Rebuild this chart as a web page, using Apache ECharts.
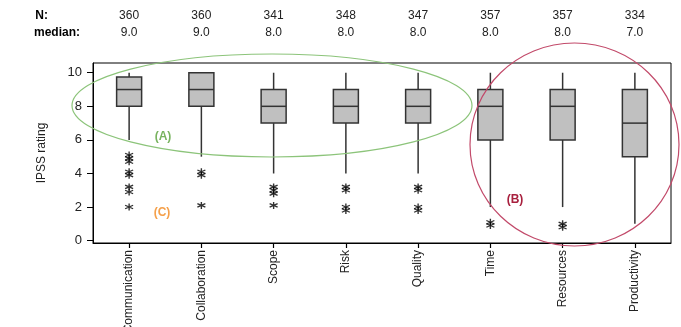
<!DOCTYPE html>
<html><head><meta charset="utf-8">
<script src="https://cdn.jsdelivr.net/npm/echarts@6/dist/echarts.min.js"></script>
<style>html,body{margin:0;padding:0;background:#fff}#c{width:681px;height:327px}</style>
</head><body><div id="c"></div>
<script>
const categories = ['Communication','Collaboration','Scope','Risk','Quality','Time','Resources','Productivity'];
const nValues = [360,360,341,348,347,357,357,334];
const medians = [9.0,9.0,8.0,8.0,8.0,8.0,8.0,7.0];
// [lower whisker, Q1, median, Q3, upper whisker]
const boxStats = [
  [6,8,9,9.75,10],
  [5,8,9,10,10],
  [4,7,8,9,10],
  [4,7,8,9,10],
  [4,7,8,9,10],
  [2,6,8,9,10],
  [2,6,8,9,10],
  [1,5,7,9,10]
];
// outliers: [category index, rating]
const outliers = [
  [0,5.1],[0,4.9],[0,4.7],[0,4.1],[0,3.9],[0,3.2],[0,2.9],[0,2.0],
  [1,4.1],[1,3.9],[1,2.1],
  [2,3.2],[2,3.0],[2,2.8],[2,2.1],
  [3,3.2],[3,3.0],[3,2.0],[3,1.8],
  [4,3.2],[4,3.0],[4,2.0],[4,1.8],
  [5,1.1],[5,0.9],
  [6,1.0],[6,0.8]
];
const yTicks = [0,2,4,6,8,10];

const chart = echarts.init(document.getElementById('c'));
const font = 'Liberation Sans, Arial, sans-serif';
const left = 93, right = 10, plotW = 681 - left - right;
const step = plotW / categories.length;
const headerTexts = [];
headerTexts.push({type:'text', style:{text:'N:', x:48, y:16, textAlign:'right', textVerticalAlign:'middle', font:'bold 12px '+font, fill:'#000'}});
headerTexts.push({type:'text', style:{text:'median:', x:80, y:33, textAlign:'right', textVerticalAlign:'middle', font:'bold 12px '+font, fill:'#000'}});
categories.forEach((c,i)=>{
  const cx = left + step*(i+0.5);
  headerTexts.push({type:'text', style:{text:String(nValues[i]), x:cx, y:16, textAlign:'center', textVerticalAlign:'middle', font:'12px '+font, fill:'#222'}});
  headerTexts.push({type:'text', style:{text:medians[i].toFixed(1), x:cx, y:33, textAlign:'center', textVerticalAlign:'middle', font:'12px '+font, fill:'#222'}});
});

const asterisk = 'path://M0,-5L0,5M-4.33,-2.5L4.33,2.5M-4.33,2.5L4.33,-2.5';
const boxData = boxStats.map((s,i)=>[i].concat(s));
const lineStyle = {stroke:'#333', lineWidth:1.5};

chart.setOption({
  animation:false,
  backgroundColor:'#fff',
  grid:{left:left, right:right, top:63, bottom:84, show:true, borderColor:'#000', borderWidth:1, containLabel:false, outerBoundsMode:'none'},
  xAxis:{type:'category', data:categories, boundaryGap:true,
    axisLine:{show:true, onZero:false, lineStyle:{color:'#000', width:1}},
    axisTick:{show:true, inside:false, alignWithLabel:true, interval:0, length:5, lineStyle:{color:'#000', width:1.2}},
    axisLabel:{rotate:90, color:'#222', fontFamily:font, fontSize:12, margin:7, interval:0},
    splitLine:{show:false}},
  yAxis:{type:'value', min:-0.14, max:10.58,
    name:'IPSS rating', nameLocation:'middle', nameGap:45, nameRotate:90,
    nameTextStyle:{fontFamily:font, fontSize:12, color:'#222'},
    axisLine:{show:true, lineStyle:{color:'#000'}},
    axisTick:{show:true, length:6, customValues:yTicks, lineStyle:{color:'#000'}},
    axisLabel:{customValues:yTicks, color:'#222', fontFamily:font, fontSize:13, margin:11},
    splitLine:{show:false}},
  series:[
    {type:'custom', data:boxData,
      encode:{x:0, y:[1,2,3,4,5]},
      renderItem:function(params, api){
        const i = api.value(0);
        const pMin = api.coord([i, api.value(1)]);
        const pQ1 = api.coord([i, api.value(2)]);
        const pMed = api.coord([i, api.value(3)]);
        const pQ3 = api.coord([i, api.value(4)]);
        const pMax = api.coord([i, api.value(5)]);
        const hw = 12.5, x = pMin[0];
        return {type:'group', children:[
          {type:'line', shape:{x1:x, y1:pMin[1], x2:x, y2:pQ1[1]}, style:lineStyle},
          {type:'line', shape:{x1:x, y1:pQ3[1], x2:x, y2:pMax[1]}, style:lineStyle},
          {type:'rect', shape:{x:x-hw, y:pQ3[1], width:hw*2, height:pQ1[1]-pQ3[1]}, style:{fill:'#c0c0c0', stroke:'#333', lineWidth:1.5}},
          {type:'line', shape:{x1:x-hw, y1:pMed[1], x2:x+hw, y2:pMed[1]}, style:lineStyle}
        ]};
      }},
    {type:'scatter', data:outliers, symbol:asterisk, symbolSize:[8,7],
      itemStyle:{color:'rgba(0,0,0,0)', borderColor:'#000', borderWidth:1.3}}
  ],
  graphic:[
    ...headerTexts,
    {type:'ellipse', shape:{cx:272, cy:105.5, rx:200, ry:51.5}, style:{fill:'none', stroke:'#8cc47a', lineWidth:1.2}, z:100},
    {type:'ellipse', shape:{cx:574.5, cy:144.5, rx:104.5, ry:101.5}, style:{fill:'none', stroke:'#c24a6a', lineWidth:1.2}, z:100},
    {type:'text', style:{text:'(A)', x:163, y:137, textAlign:'center', textVerticalAlign:'middle', font:'bold 12px '+font, fill:'#78b35f'}, z:100},
    {type:'text', style:{text:'(C)', x:162, y:213, textAlign:'center', textVerticalAlign:'middle', font:'bold 12px '+font, fill:'#f5a04a'}, z:100},
    {type:'text', style:{text:'(B)', x:515, y:200, textAlign:'center', textVerticalAlign:'middle', font:'bold 12px '+font, fill:'#a8203e'}, z:100}
  ]
});
</script></body></html>
